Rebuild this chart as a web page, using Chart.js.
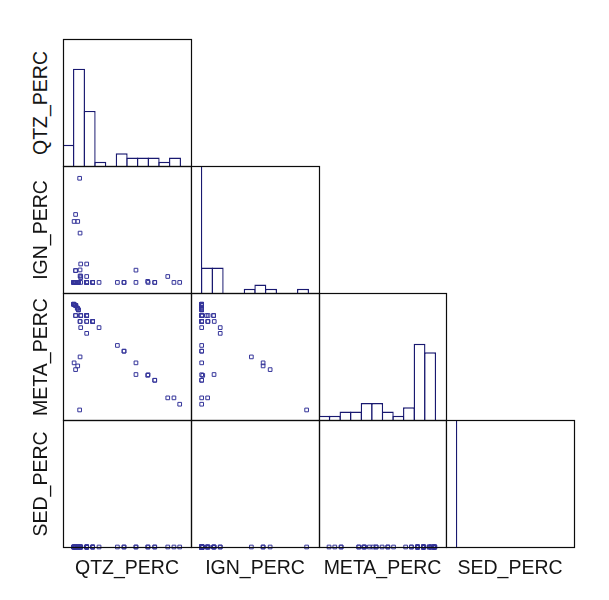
<!DOCTYPE html>
<html>
<head>
<meta charset="utf-8">
<script src="https://cdn.jsdelivr.net/npm/chart.js@4.4.0/dist/chart.umd.min.js"></script>
<style>
body { margin: 0; background: #fff; }
#wrap { position: relative; width: 609px; height: 600px; overflow: hidden; background: #fff; }
#wrap canvas { position: absolute; }
.lab { position: absolute; font-family: 'Liberation Sans', Arial, sans-serif; font-size: 19.5px;
       line-height: 20px; height: 20px; color: #151515; white-space: nowrap; text-align: center; }
</style>
</head>
<body>
<div id="wrap"></div>
<script>
var names = ['QTZ_PERC', 'IGN_PERC', 'META_PERC', 'SED_PERC'];

// axis range of each variable, panel edge to panel edge
var qtzLim = [-5, 55];
var ignLim = [-5, 55];
var metaLim = [43, 105];
var sedLim = [0, 12];

// histogram counts (12 bins across each diagonal panel)
var qtzHist = [5, 23, 13, 1, 0, 3, 2, 2, 2, 1, 2, 0];
var ignHist = [37, 6, 6, 0, 0, 1, 2, 1, 0, 0, 1, 0];
var metaHist = [1, 1, 2, 2, 4, 4, 2, 1, 3, 18, 16, 0];
var sedHist = [54, 0, 0, 0, 0, 0, 0, 0, 0, 0, 0, 0];
var histMax = 30;

// the 54 samples
var qtz = [6.1, 3.3, 3.3, 0.9, 8.9, 6.1, 3.0, 11.9, 3.3, 6.1, 20.5, 23.6, 23.6, 3.0, 29.2, 0.2, 1.9, 0.9,
  34.9, 29.2, 34.7, 38.0, 38.0, 47.0, 44.1, 49.7, 2.8,
  0, 0, 0, 0, 0, 0.5, 0.5, 1.0, 1.0, 1.0, 1.7, 1.7, 1.7, 2.2, 2.2, 2.2, 3.3, 3.0,
  6.1, 6.1, 6.1, 6.1, 8.9, 8.9, 8.9, 6.1, 0.9];
var ign = [0, 2.2, 3.0, 5.6, 0, 2.8, 5.9, 0, 8.7, 8.7, 0, 0, 0, 23.3, 0, 28.8, 28.8, 32.1,
  0, 5.8, 0.5, 0, 0, 0, 2.8, 0, 49.2,
  0, 0, 0, 0, 0, 0, 0, 0, 0, 0, 0, 0, 0, 0, 0, 0, 0, 3.0,
  0, 0, 0, 0, 0, 0, 0, 0, 5.6];
var meta = [94.0, 94.0, 94.0, 94.0, 91.1, 91.1, 91.1, 88.1, 88.1, 85.3, 79.4, 76.6, 76.6, 73.8, 70.9, 70.9, 69.4, 67.6,
  65.1, 65.2, 64.8, 62.4, 62.4, 53.8, 53.8, 50.7, 47.9,
  99.5, 99.5, 99.5, 99.5, 99.5, 99.2, 99.2, 98.9, 98.9, 98.9, 97.6, 97.6, 97.6, 96.8, 96.8, 96.8, 94.0, 91.1,
  94.0, 94.0, 94.0, 94.0, 91.1, 91.1, 91.1, 91.1, 94.0];
var sed = [0, 0, 0, 0, 0, 0, 0, 0, 0, 0, 0, 0, 0, 0, 0, 0, 0, 0,
  0, 0, 0, 0, 0, 0, 0, 0, 0,
  0, 0, 0, 0, 0, 0, 0, 0, 0, 0, 0, 0, 0, 0, 0, 0, 0, 0,
  0, 0, 0, 0, 0, 0, 0, 0, 0];

var vars = [qtz, ign, meta, sed];
var lims = [qtzLim, ignLim, metaLim, sedLim];
var hists = [qtzHist, ignHist, metaHist, sedHist];

// panel grid on the page
var X = [63, 191, 319, 446, 574];
var Y = [39, 166, 293, 420, 547];
var PAD = 6;
var wrap = document.getElementById('wrap');

var boxPlugin = {
  id: 'box',
  afterDatasetsDraw: function(chart) {
    var a = chart.chartArea, ctx = chart.ctx;
    ctx.save();
    ctx.strokeStyle = '#0c0c0c';
    ctx.lineWidth = 1.2;
    ctx.strokeRect(a.left + 0.5, a.top + 0.5, a.right - a.left, a.bottom - a.top);
    ctx.restore();
  }
};

function makeCanvas(r, c) {
  var w = X[c + 1] - X[c], h = Y[r + 1] - Y[r];
  var cv = document.createElement('canvas');
  cv.width = w + 2 * PAD;
  cv.height = h + 2 * PAD;
  cv.style.width = cv.width + 'px';
  cv.style.height = cv.height + 'px';
  cv.style.left = (X[c] - PAD) + 'px';
  cv.style.top = (Y[r] - PAD) + 'px';
  wrap.appendChild(cv);
  return cv;
}

var baseOpts = {
  responsive: false,
  animation: false,
  devicePixelRatio: 1,
  layout: { padding: PAD },
  plugins: { legend: { display: false }, tooltip: { enabled: false } },
  events: []
};

function histPanel(k) {
  var lo = lims[k][0], step = (lims[k][1] - lims[k][0]) / 12;
  var labels = hists[k].map(function(v, i) { return (lo + i * step).toFixed(1); });
  new Chart(makeCanvas(k, k), {
    type: 'bar',
    data: {
      labels: labels,
      datasets: [{
        data: hists[k],
        backgroundColor: '#ffffff',
        borderColor: '#191970',
        borderWidth: 1.4,
        barPercentage: 1.12,
        categoryPercentage: 1,
        clip: 0
      }]
    },
    options: Object.assign({}, baseOpts, {
      scales: {
        x: { type: 'category', display: false, offset: true },
        y: { type: 'linear', display: false, min: 0, max: histMax }
      }
    }),
    plugins: [boxPlugin]
  });
}

function scatterPanel(r, c) {
  var pts = vars[c].map(function(v, i) { return { x: v, y: vars[r][i] }; });
  new Chart(makeCanvas(r, c), {
    type: 'scatter',
    data: {
      datasets: [{
        data: pts,
        pointStyle: 'rect',
        pointRadius: 2.6,
        borderColor: '#35359a',
        backgroundColor: 'rgba(255,255,255,0)',
        borderWidth: 1,
        clip: false
      }]
    },
    options: Object.assign({}, baseOpts, {
      scales: {
        x: { type: 'linear', display: false, min: lims[c][0], max: lims[c][1] },
        y: { type: 'linear', display: false, min: lims[r][0], max: lims[r][1] }
      }
    }),
    plugins: [boxPlugin]
  });
}

for (var r = 0; r < 4; r++) {
  for (var c = 0; c <= r; c++) {
    if (r === c) histPanel(r); else scatterPanel(r, c);
  }
}

// variable names: along the bottom and up the left side
names.forEach(function(n, i) {
  var b = document.createElement('div');
  b.className = 'lab';
  b.textContent = n;
  b.style.width = '160px';
  b.style.left = ((X[i] + X[i + 1]) / 2 - 80) + 'px';
  b.style.top = '557px';
  wrap.appendChild(b);

  var s = document.createElement('div');
  s.className = 'lab';
  s.textContent = n;
  s.style.width = '160px';
  s.style.left = (40 - 80) + 'px';
  s.style.top = ((Y[i] + Y[i + 1]) / 2 - 10) + 'px';
  s.style.transform = 'rotate(-90deg)';
  wrap.appendChild(s);
});
</script>
</body>
</html>
